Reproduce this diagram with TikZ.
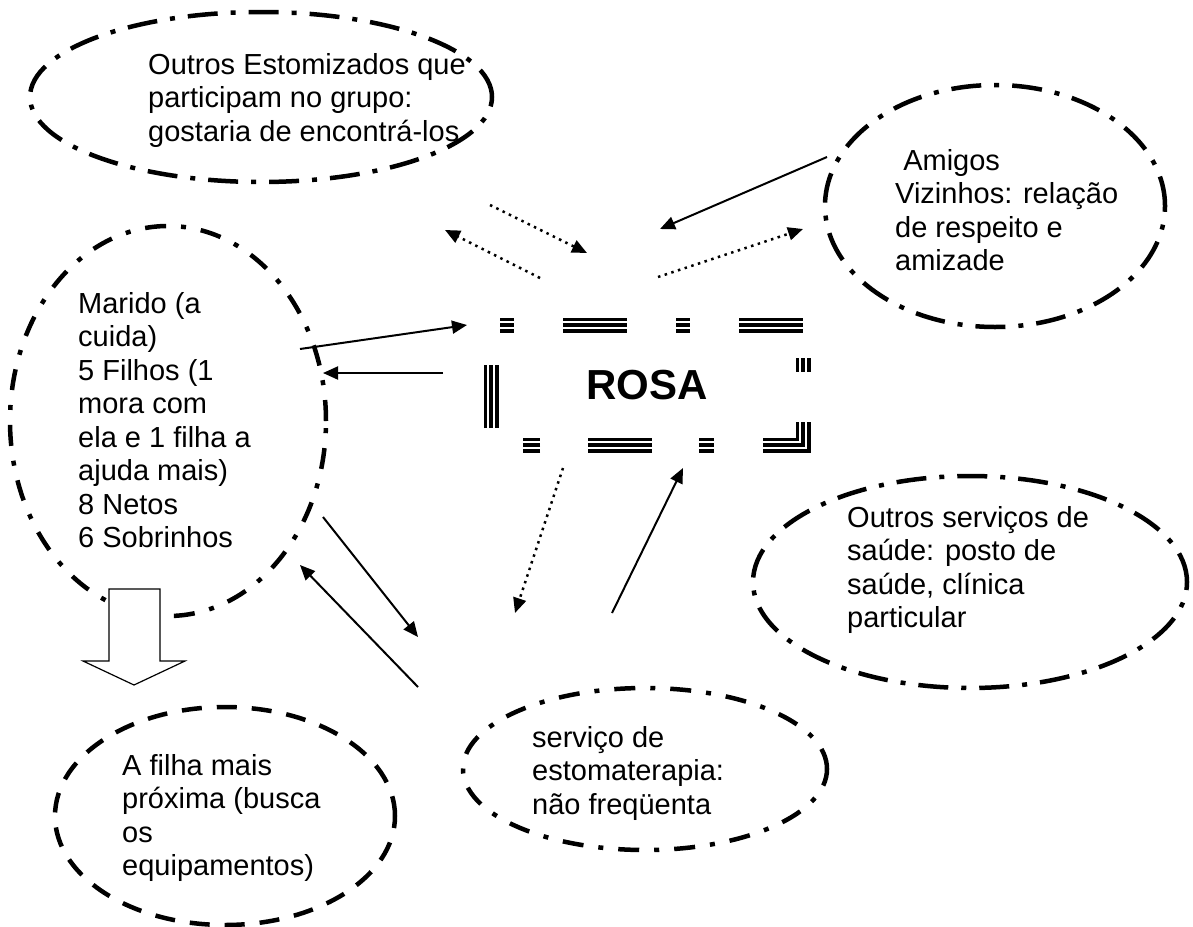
\documentclass[tikz,border=0pt]{standalone}
\usepackage{fontspec}
\setmainfont{Liberation Sans}
\usetikzlibrary{arrows.meta,shapes.geometric}
\begin{document}
\begin{tikzpicture}[x=1pt,y=-1pt,>={Triangle[length=15pt,width=13pt]},
  txt/.style={font=\fontsize{29}{33.5}\selectfont,align=left,inner sep=0pt,anchor=base west},
  oval/.style={ellipse,draw,line width=4.5pt,inner sep=0pt},
  longdashdot/.style={oval,dash pattern=on 30pt off 13pt on 5pt off 13pt},
  dashdot/.style={oval,dash pattern=on 21pt off 15pt on 5pt off 15pt},
  dashbig/.style={oval,dash pattern=on 20pt off 15pt},
  lnk/.style={->,line width=2pt},
  dotlnk/.style={->,line width=2.5pt,dash pattern=on 2.5pt off 4.5pt},
  triple/.style={line width=15pt,postaction={draw=white,line width=8pt},postaction={draw=black,line width=4pt}}]
\useasboundingbox (0,0) rectangle (1193,926);
\node[longdashdot,minimum width=462,minimum height=170] (eOutros) at (261,97) {};
\node[longdashdot,minimum width=340,minimum height=242] (eAmigos) at (995,206) {};
\node[dashdot,minimum width=316,minimum height=390] (eMarido) at (168,421) {};
\node[longdashdot,minimum width=434,minimum height=212] (eSaude) at (970,582) {};
\node[dashdot,minimum width=364,minimum height=162] (eServico) at (645,769) {};
\node[dashbig,minimum width=340,minimum height=218] (eFilha) at (225,816) {};
\node[txt] (tOutros) at (148,141) {Outros Estomizados que\\participam no grupo:\\gostaria de encontrá-los};
\node[txt] (tAmigos) at (895,270.5) {\ Amigos\\Vizinhos: relação\\de respeito e\\amizade};
\node[txt] (tMarido) at (78,547.5) {Marido (a\\cuida)\\5 Filhos (1\\mora com\\ela e 1 filha a\\ajuda mais)\\8 Netos\\6 Sobrinhos};
\node[txt] (tSaude) at (847,627.5) {Outros serviços de\\saúde: posto de\\saúde, clínica\\particular};
\node[txt] (tServico) at (532,814) {serviço de\\estomaterapia:\\não freqüenta};
\node[txt] (tFilha) at (122,875.5) {A filha mais\\próxima (busca\\os\\equipamentos)};
\node[font=\fontsize{42}{50}\selectfont\bfseries,inner sep=0pt,anchor=base] (rosa) at (647,399) {ROSA};
\foreach \a/\b in {500/514,563/627,676/690,739/803}{\draw[triple] (\a,325) -- (\b,325);}
\foreach \a/\b in {714/699,652/588,540/523}{\draw[triple] (\a,445) -- (\b,445);}
\draw[triple] (803,358) -- (803,372);
\draw[triple] (803,422) -- (803,445) -- (763,445);
\draw[triple] (491,428) -- (491,365);
\draw[line width=1.2pt,fill=white] (109,589) -- (160,589) -- (160,661) -- (185,661) -- (134,685) -- (83,661) -- (109,661) -- cycle;
\foreach \n/\x/\y in {o1/490/205,o2/587/253,o3/540/278,o4/445/230,m1/827/157,m2/660/229,m3/658/277,m4/803/229,
  f1/300/349,f2/467/325,f3/443/373,f4/323/373,s1/563/468,s2/515/613,s3/612/613,s4/683/468,
  g1/323/517,g2/418/637,g3/418/687,g4/300/565}{\coordinate (\n) at (\x,\y);}
\foreach \a/\b in {o1/o2,o3/o4,m3/m4,s1/s2}{\draw[dotlnk] (\a) -- (\b);}
\foreach \a/\b in {m1/m2,f1/f2,f3/f4,s3/s4,g1/g2,g3/g4}{\draw[lnk] (\a) -- (\b);}
\end{tikzpicture}
\end{document}
